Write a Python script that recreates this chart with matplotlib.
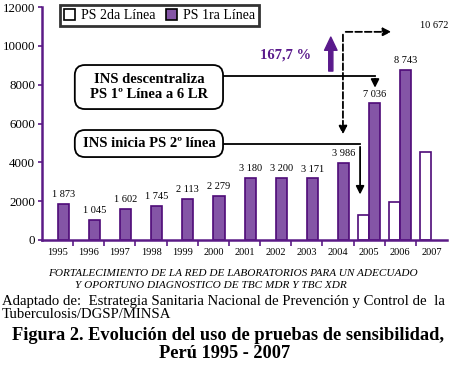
import numpy as np
import matplotlib.pyplot as plt
from matplotlib.patches import FancyBboxPatch, Patch

plt.rcParams['font.family'] = ['Liberation Serif', 'DejaVu Serif']

# === data ===
years = ["1995", "1996", "1997", "1998", "1999", "2000", "2001",
         "2002", "2003", "2004", "2005", "2006", "2007"]
ps_primera = [1873, 1045, 1602, 1745, 2113, 2279, 3180, 3200, 3171, 3986, 7036, 8743, 0]
ps_segunda = [0, 0, 0, 0, 0, 0, 0, 0, 0, 0, 1300, 1980, 4550]
primera_labels = ["1 873", "1 045", "1 602", "1 745", "2 113", "2 279", "3 180",
                  "3 200", "3 171", "3 986", "7 036", "8 743", ""]

purple = "#8455a6"
edge = "#4e0a78"
axis_col = "#5b1a86"

fig = plt.figure(figsize=(4.5, 3.76), dpi=100)
ax = fig.add_axes([42 / 450, 136 / 376, 405 / 450, 233 / 376])

x = np.arange(len(years))
w = 0.36

seg = np.array(ps_segunda)
ax.bar(x[seg > 0] - w / 2, seg[seg > 0], width=w, color="white",
       edgecolor=edge, linewidth=1.2, label="PS 2da Línea")
prim = np.array(ps_primera)
ax.bar(x[prim > 0] + w / 2, prim[prim > 0], width=w, color=purple,
       edgecolor=edge, linewidth=1.2, label="PS 1ra Línea")

for xi, v, lab in zip(x, ps_primera, primera_labels):
    if lab:
        ax.text(xi + w / 2, v + 250, lab, ha="center", va="bottom", fontsize=7.5)

ax.set_xlim(-0.5, len(years) - 0.5)
ax.set_ylim(0, 12000)
ax.set_yticks(np.arange(0, 12001, 2000))
ax.set_xticks(x)
ax.set_xticklabels(years, fontsize=7.5)
ax.set_xticks(np.arange(0.5, len(years) - 0.5, 1), minor=True)
ax.tick_params(axis="x", which="major", length=0, pad=6)
ax.tick_params(axis="x", which="minor", length=4, width=1.2, color=axis_col)
ax.tick_params(axis="y", labelsize=9.3, length=3, width=1.2, color=axis_col, pad=2)
for s in ["top", "right"]:
    ax.spines[s].set_visible(False)
for s in ["left", "bottom"]:
    ax.spines[s].set_color(axis_col)
    ax.spines[s].set_linewidth(1.8)

# legend
handles = [Patch(facecolor="white", edgecolor="black", linewidth=1.2, label="PS 2da Línea"),
           Patch(facecolor=purple, edgecolor="black", linewidth=1.2, label="PS 1ra Línea")]
leg = ax.legend(handles=handles, loc="upper left", bbox_to_anchor=(0.044, 1.009),
                ncol=2, fontsize=10, frameon=True, fancybox=False, borderaxespad=0,
                handlelength=0.8, handleheight=0.8, handletextpad=0.4,
                columnspacing=0.8, borderpad=0.3)
leg.get_frame().set_edgecolor("black")
leg.get_frame().set_linewidth(2)

# annotation boxes
asp = 405 / 233
for (x0, y0, x1, y1), txt in [((0.081, 0.562, 0.447, 0.751), "INS descentraliza\nPS 1º Línea a 6 LR"),
                              ((0.081, 0.356, 0.447, 0.472), "INS inicia PS 2º línea")]:
    box = FancyBboxPatch((x0, y0), x1 - x0, y1 - y0, transform=ax.transAxes,
                         boxstyle="round,pad=0,rounding_size=0.025", mutation_aspect=asp,
                         facecolor="white", edgecolor="black", linewidth=1.3, zorder=3)
    ax.add_patch(box)
    ax.text((x0 + x1) / 2, (y0 + y1) / 2, txt, transform=ax.transAxes, ha="center",
            va="center", fontsize=10.5, fontweight="bold", linespacing=1.25, zorder=4)

# connector arrows
ax.plot([5.31, 10.19], [8450, 8450], color="black", lw=1.3)
ax.annotate("", xy=(10.19, 7700), xytext=(10.19, 8450),
            arrowprops=dict(arrowstyle="-|>", color="black", lw=1.3, mutation_scale=12))
ax.plot([5.31, 9.71], [4940, 4940], color="black", lw=1.3)
ax.annotate("", xy=(9.71, 2200), xytext=(9.71, 4940),
            arrowprops=dict(arrowstyle="-|>", color="black", lw=1.3, mutation_scale=12))

# dashed arrows
ax.annotate("", xy=(9.16, 5300), xytext=(9.16, 10720),
            arrowprops=dict(arrowstyle="-|>", color="black", lw=1.3, ls="--", mutation_scale=12))
ax.annotate("", xy=(10.8, 10720), xytext=(9.16, 10720),
            arrowprops=dict(arrowstyle="-|>", color="black", lw=1.3, ls="--", mutation_scale=12))
ax.text(12.1, 11050, "10 672", ha="center", va="center", fontsize=7.5)

# growth arrow
ax.annotate("", xy=(8.77, 10450), xytext=(8.77, 8700),
            arrowprops=dict(arrowstyle="simple,head_length=0.95,head_width=0.9,tail_width=0.3",
                            color="#5a1a8c", mutation_scale=10, shrinkA=0, shrinkB=0))
ax.text(7.32, 9530, "167,7 %", ha="center", va="center", fontsize=10.5,
        fontweight="bold", color="#5a1a8c")

# captions
fig.text(233 / 450, 1 - 274 / 376, "FORTALECIMIENTO DE LA RED DE LABORATORIOS PARA UN ADECUADO",
         ha="center", va="center", fontsize=8.1, style="italic")
fig.text(211 / 450, 1 - 286 / 376, "Y OPORTUNO DIAGNOSTICO DE TBC MDR Y TBC XDR",
         ha="center", va="center", fontsize=8.1, style="italic")
fig.text(2 / 450, 1 - 302 / 376,
         "Adaptado de:  Estrategia Sanitaria Nacional de Prevención y Control de  la",
         ha="left", va="center", fontsize=10.6)
fig.text(2 / 450, 1 - 314 / 376, "Tuberculosis/DGSP/MINSA", ha="left", va="center", fontsize=10.6)
fig.text(228 / 450, 1 - 335 / 376, "Figura 2. Evolución del uso de pruebas de sensibilidad,",
         ha="center", va="center", fontsize=13.2, fontweight="bold")
fig.text(225 / 450, 1 - 353 / 376, "Perú 1995 - 2007",
         ha="center", va="center", fontsize=13.2, fontweight="bold")

plt.savefig("out.png", dpi=100)
